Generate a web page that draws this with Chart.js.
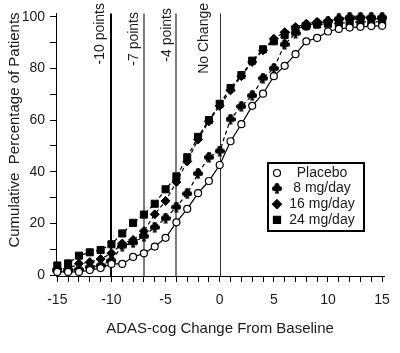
<!DOCTYPE html>
<html>
<head>
<meta charset="utf-8">
<script src="https://cdn.jsdelivr.net/npm/chart.js@4.4.1/dist/chart.umd.min.js"></script>
<style>
  html, body { margin: 0; padding: 0; background: #fff; }
  #wrap { width: 400px; height: 353px; }
</style>
</head>
<body>
<div id="wrap"><canvas id="adasChart"></canvas></div>
<script>
// Datos
const changeFromBaseline = [-15, -14, -13, -12, -11, -10, -9, -8, -7, -6, -5, -4, -3, -2, -1, 0,
                            1, 2, 3, 4, 5, 6, 7, 8, 9, 10, 11, 12, 13, 14, 15];
const placebo = [1.2, 1.2, 1.2, 1.9, 2.7, 4.3, 4.3, 7, 8.4, 11, 14.4, 20.4, 25.6, 31.7, 36.4, 42.6,
                 51.8, 58.4, 65.5, 70.2, 77, 81, 85.5, 90.5, 91.8, 94.3, 95.3, 95.8, 96.1, 96.4, 96.5];
const dose8 = [1.8, 1.8, 2.2, 3.1, 3.7, 5.6, 11.2, 12.5, 15, 18.5, 22, 26.3, 31.5, 39.3, 45.6, 48,
               60.3, 65.3, 69.5, 76.2, 80, 89.3, 93.6, 96.5, 97.5, 98.2, 99.2, 99.8, 99.8, 99.8, 99.8];
const dose16 = [2.5, 2.5, 4.4, 5, 6.2, 8.4, 12.2, 13.6, 17, 23.5, 28.7, 36, 44, 52.5, 59.5, 65.5,
                71.5, 77, 82.5, 87, 91.5, 94, 96, 97.3, 98, 98.5, 99, 99, 99.2, 99.2, 99.2];
const dose24 = [3.7, 4.5, 7.5, 8.8, 9.7, 11.9, 16.1, 20.2, 23.4, 27.6, 33.2, 38.2, 45.6, 53.5, 60, 66.3,
                72.4, 77.4, 83, 87.4, 90.5, 93, 95.3, 96.5, 97, 97.3, 97.5, 97.8, 98, 98, 98];
const seriesLabels = ['Placebo', '8 mg/day', '16 mg/day', '24 mg/day'];

const xTicks = changeFromBaseline;
const yTicks = [0, 10, 20, 30, 40, 50, 60, 70, 80, 90, 100];

// Líneas de referencia
const refValues = [-10, -7, -4, 0];
const refLabels = ['-10 points', '-7 points', '-4 points', 'No Change'];

const yTitle = 'Cumulative  Percentage of Patients';

const FONT = '"Liberation Sans", Arial, sans-serif';
const INK = '#1a1a1a';

// Marcador en forma de trébol para 8 mg/day
function makeClub() {
    const c = document.createElement('canvas');
    c.width = 10;
    c.height = 11;
    const g = c.getContext('2d');
    g.fillStyle = '#000';
    g.beginPath(); g.arc(5, 2.6, 2.5, 0, Math.PI * 2); g.fill();
    g.beginPath(); g.arc(2.5, 5.6, 2.5, 0, Math.PI * 2); g.fill();
    g.beginPath(); g.arc(7.5, 5.6, 2.5, 0, Math.PI * 2); g.fill();
    g.beginPath(); g.moveTo(5, 4); g.lineTo(2.8, 10.5); g.lineTo(7.2, 10.5); g.closePath(); g.fill();
    return c;
}
const clubStyle = makeClub();

const refLinesPlugin = {
    id: 'refLines',
    beforeDatasetsDraw(chart) {
        const { ctx, chartArea, scales: { x } } = chart;
        const widths = [2, 1.4, 1.4, 1];
        const colors = ['#000', '#444', '#444', '#333'];
        const gaps = [4, 3, 2, 9];
        const tops = [3, 12, 8, 3];
        ctx.save();
        refValues.forEach((v, i) => {
            const px = Math.round(x.getPixelForValue(v)) + (widths[i] === 1 ? 0.5 : 0);
            ctx.strokeStyle = colors[i];
            ctx.lineWidth = widths[i];
            ctx.beginPath();
            ctx.moveTo(px, chartArea.top);
            ctx.lineTo(px, chartArea.bottom);
            ctx.stroke();

            ctx.save();
            ctx.translate(px - gaps[i], tops[i]);
            ctx.rotate(-Math.PI / 2);
            ctx.font = '14px ' + FONT;
            ctx.fillStyle = INK;
            ctx.textAlign = 'right';
            ctx.textBaseline = 'bottom';
            ctx.fillText(refLabels[i], 0, 0);
            ctx.restore();
        });

        // título del eje Y (un poco por encima del centro, como en el original)
        ctx.save();
        ctx.translate(15, 130);
        ctx.rotate(-Math.PI / 2);
        ctx.font = '15px ' + FONT;
        ctx.fillStyle = INK;
        ctx.textAlign = 'center';
        ctx.textBaseline = 'middle';
        ctx.fillText(yTitle, 0, 0);
        ctx.restore();

        ctx.restore();
    }
};

const boxLegendPlugin = {
    id: 'boxLegend',
    afterDraw(chart) {
        const { ctx } = chart;
        const left = 268, top = 163, w = 96, h = 68;
        ctx.save();
        ctx.fillStyle = '#fff';
        ctx.fillRect(left, top, w, h);
        ctx.strokeStyle = '#000';
        ctx.lineWidth = 2;
        ctx.strokeRect(left, top, w, h);
        ctx.font = '14px ' + FONT;
        ctx.textAlign = 'center';
        ctx.textBaseline = 'middle';
        chart.data.datasets.forEach((ds, i) => {
            const cy = top + 10 + i * 15.6;
            ctx.fillStyle = ds.pointBackgroundColor;
            ctx.strokeStyle = '#000';
            ctx.lineWidth = 1.2;
            Chart.helpers.drawPoint(ctx, {
                pointStyle: ds.pointStyle,
                radius: ds.pointRadius,
                borderWidth: 1.2
            }, 277, cy);
            ctx.fillStyle = INK;
            ctx.fillText(ds.label, 322, cy);
        });
        ctx.restore();
    }
};

const commonDataset = {
    borderColor: '#000',
    borderWidth: 1.2,
    pointBorderColor: '#000',
    pointBorderWidth: 1,
    tension: 0,
    clip: false
};

new Chart(document.getElementById('adasChart'), {
    type: 'line',
    data: {
        datasets: [
            {
                ...commonDataset,
                label: seriesLabels[0],
                data: changeFromBaseline.map((x, i) => ({ x, y: placebo[i] })),
                pointStyle: 'circle',
                pointRadius: 3.5,
                pointBackgroundColor: '#fff',
                pointBorderWidth: 1.2
            },
            {
                ...commonDataset,
                label: seriesLabels[1],
                data: changeFromBaseline.map((x, i) => ({ x, y: dose8[i] })),
                pointStyle: clubStyle,
                pointRadius: 5,
                pointBackgroundColor: '#000',
                borderDash: [4, 3]
            },
            {
                ...commonDataset,
                label: seriesLabels[2],
                data: changeFromBaseline.map((x, i) => ({ x, y: dose16[i] })),
                pointStyle: 'rectRot',
                pointRadius: 4.5,
                pointBackgroundColor: '#000',
                borderDash: [4, 3]
            },
            {
                ...commonDataset,
                label: seriesLabels[3],
                data: changeFromBaseline.map((x, i) => ({ x, y: dose24[i] })),
                pointStyle: 'rect',
                pointRadius: 5,
                pointBackgroundColor: '#000',
                borderDash: [4, 3]
            }
        ]
    },
    options: {
        responsive: true,
        maintainAspectRatio: false,
        animation: false,
        layout: {
            padding: { top: 5, right: 15, left: 0, bottom: 0 }
        },
        plugins: {
            legend: { display: false },
            tooltip: { enabled: false }
        },
        scales: {
            x: {
                type: 'linear',
                min: -15.12,
                max: 15.18,
                afterBuildTicks: axis => { axis.ticks = xTicks.map(v => ({ value: v })); },
                afterFit: axis => { axis.height = 77; },
                border: { display: true, color: '#000', width: 1 },
                grid: {
                    drawOnChartArea: false,
                    drawTicks: true,
                    tickLength: 6,
                    color: '#000'
                },
                ticks: {
                    autoSkip: false,
                    maxRotation: 0,
                    padding: 10,
                    color: INK,
                    font: { family: FONT, size: 14 },
                    callback: v => (v % 5 === 0 ? String(v) : '')
                },
                title: {
                    display: true,
                    text: 'ADAS-cog Change From Baseline',
                    color: INK,
                    font: { family: FONT, size: 15 },
                    padding: { top: 0, bottom: 15 }
                }
            },
            y: {
                type: 'linear',
                min: -0.375,
                max: 101.3,
                afterBuildTicks: axis => { axis.ticks = yTicks.map(v => ({ value: v })); },
                afterFit: axis => { axis.width = 56; },
                border: { display: true, color: '#000', width: 1 },
                grid: {
                    drawOnChartArea: false,
                    drawTicks: true,
                    tickLength: 6,
                    color: '#000'
                },
                ticks: {
                    autoSkip: false,
                    padding: 5,
                    color: INK,
                    font: { family: FONT, size: 14 },
                    callback: v => (v % 20 === 0 ? String(v) : '')
                },
                title: { display: false }
            }
        }
    },
    plugins: [refLinesPlugin, boxLegendPlugin]
});
</script>
</body>
</html>
